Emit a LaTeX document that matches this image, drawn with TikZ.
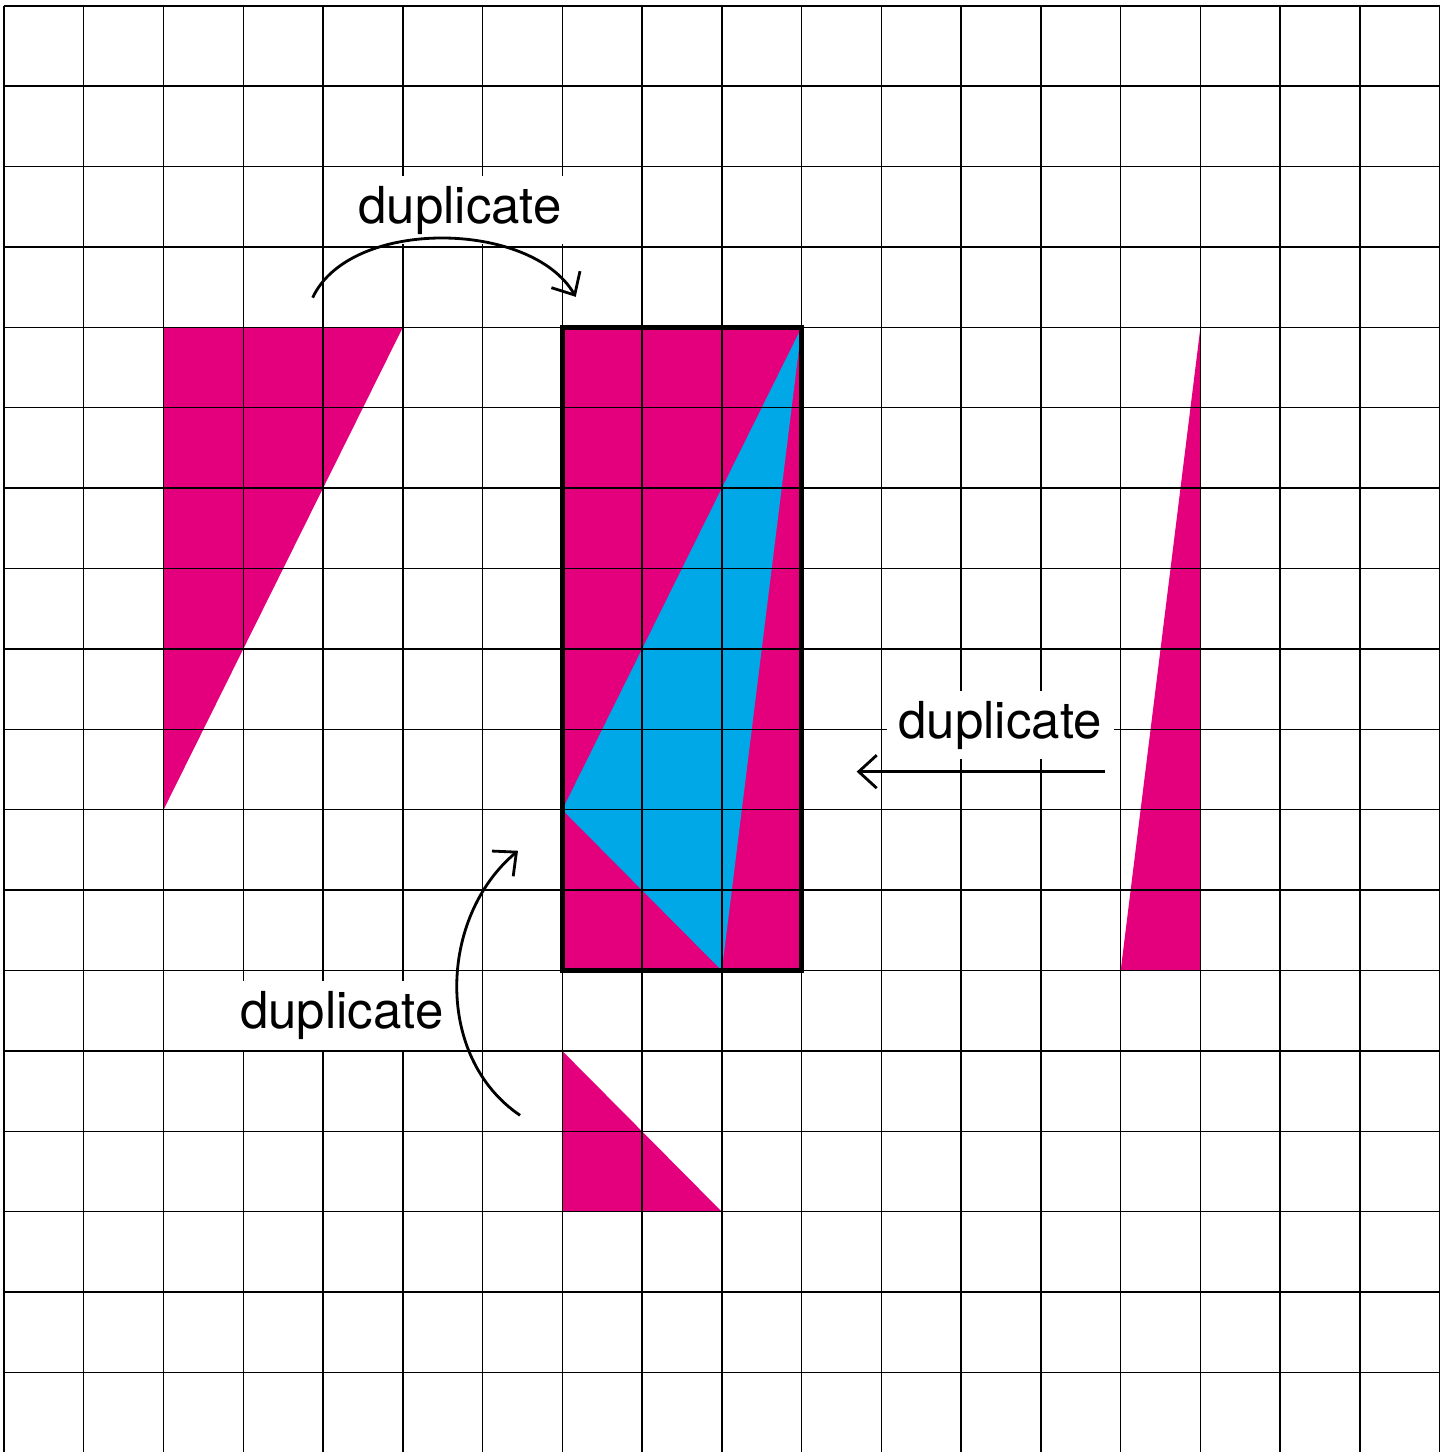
\documentclass[tikz,border=0pt]{standalone}
\usepackage{fontspec}
\setmainfont{TeX Gyre Heros}
\usetikzlibrary{arrows.meta}
\definecolor{shapepink}{HTML}{E4007C}
\definecolor{shapeblue}{HTML}{00A8E8}
\tikzset{
  gridline/.style={line width=0.4pt, black},
  dupnote/.style={fill=white, inner xsep=0.12cm, inner ysep=0.1cm,
    font=\fontsize{14.5}{17}\selectfont},
  duparrow/.style={line width=0.8pt, -{Straight Barb[length=1.8mm,width=3.3mm]}},
}

\begin{document}
\begin{tikzpicture}[x=0.7976cm, y=0.804cm]
\useasboundingbox (-0.0502,0.0124) rectangle (18.104,18.072);

% pieces to be duplicated
\fill[shapepink] (2,14) -- (5,14) -- (2,8) -- cycle;
\fill[shapepink] (15,14) -- (15,6) -- (14,6) -- cycle;
\fill[shapepink] (7,5) -- (7,3) -- (9,3) -- cycle;

% assembled rectangle: 3 x 8 cells
\fill[shapepink] (7,6) rectangle (10,14);
\fill[shapeblue] (10,14) -- (7,8) -- (9,6) -- cycle;

% grid paper
\draw[gridline] (0,0) grid[step=1] (18,18);

% outline of the rectangle
\draw[line width=1.4pt] (7,6) rectangle (10,14);

% labels
\node[dupnote] (dupTop) at (5.717,15.46) {duplicate};
\node[dupnote] (dupRight) at (12.49,9.05) {duplicate};
\node[dupnote] (dupBottom) at (4.234,5.44) {duplicate};

% arrow ends
\coordinate (fromLeft) at (3.87,14.37);
\coordinate (toTop) at (7.168,14.38);
\coordinate (fromRight) at (13.80,8.474);
\coordinate (toRight) at (10.69,8.474);
\coordinate (fromBottom) at (6.47,4.20);
\coordinate (toBottom) at (6.444,7.49);

% arrows
\draw[duparrow] (fromLeft) to[out=65,in=120,looseness=0.86] (toTop);
\draw[duparrow] (fromRight) -- (toRight);
\draw[duparrow] (fromBottom) to[out=146,in=220] (toBottom);

\end{tikzpicture}
\end{document}
